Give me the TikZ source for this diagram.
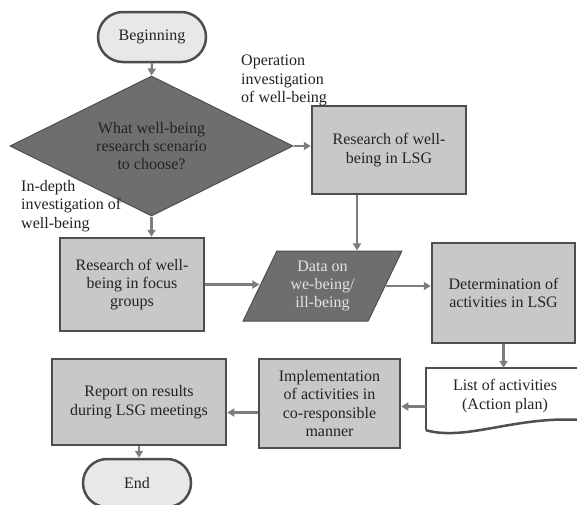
\documentclass[tikz,border=0pt]{standalone}
\usepackage{fontspec}
\setmainfont{Liberation Serif}
\usetikzlibrary{shapes.geometric,shapes.misc,arrows.meta}
\definecolor{boxgray}{RGB}{200,200,200}
\definecolor{edgegray}{RGB}{78,78,78}
\definecolor{shapegray}{RGB}{110,110,110}
\definecolor{termgray}{RGB}{232,232,232}
\definecolor{arrowgray}{RGB}{125,125,125}
\definecolor{inkgray}{RGB}{35,35,35}
\definecolor{datatext}{RGB}{228,228,228}
\begin{document}
\begin{tikzpicture}[x=1pt,y=-1pt,font=\fontsize{16}{18.4}\selectfont,text=inkgray,
    >={Triangle[length=7pt,width=8pt]},
    box/.style={draw=edgegray,line width=2.5pt,fill=boxgray,align=center,inner sep=0pt},
    term/.style={rounded rectangle,draw=edgegray,line width=2.5pt,fill=termgray,minimum width=108,minimum height=50,inner sep=0pt},
    arr/.style={->,draw=arrowgray,line width=2.2pt}]
            \path[use as bounding box,fill=white] (0,0) rectangle (577,504);
            \node[term] (begin) at (152,37) {Beginning};
            \node[diamond,aspect=2,draw=edgegray,line width=1pt,fill=shapegray,minimum width=283,minimum height=140,inner sep=0pt,align=center] (choice) at (151.5,146) {What well-being\\research scenario\\to choose?};
            \node[box,minimum width=154,minimum height=88] (lsg) at (389,150) {Research of well-\\being in LSG};
            \node[box,minimum width=144,minimum height=93] (focus) at (132,284.5) {Research of well-\\being in focus\\groups};
            \node[trapezium,trapezium left angle=65,trapezium right angle=115,trapezium stretches=true,draw=edgegray,line width=1pt,fill=shapegray,minimum width=159,minimum height=70,inner sep=0pt,align=center,text=datatext] (data) at (322.5,286) {Data on\\we-being/\\ill-being};
            \node[box,minimum width=143,minimum height=100] (determ) at (503.5,293) {Determination of\\activities in LSG};
            \node[align=center,minimum width=158,minimum height=56,inner sep=0pt] (list) at (505,396) {List of activities\\(Action plan)};
            \node[box,minimum width=141,minimum height=89] (impl) at (329.5,403.5) {Implementation\\of activities in\\co-responsible\\manner};
            \node[box,minimum width=174,minimum height=86] (report) at (139,402) {Report on results\\during LSG meetings};
            \node[term,minimum height=48] (stop) at (137,483) {End};

            \node[align=left,anchor=north west,inner sep=0pt] (oplabel) at (241,55) {Operation\\investigation\\of well-being};
            \node[align=left,anchor=north west,inner sep=0pt] (deplabel) at (21,180) {In-depth\\investigation of\\well-being};

            \draw[draw=edgegray,line width=2.5pt] ([yshift=-6pt]list.south west) -- (list.north west) -- ([xshift=20pt]list.north east);
            \draw[draw=edgegray,line width=2.5pt] ([yshift=-6pt]list.south west) .. controls +(44,12) and +(-75,-9) .. ([xshift=11pt,yshift=3pt]list.south east);

            \draw[arr] (begin.south) -- (choice.north);
            \draw[arr] (choice.east) -- (choice.east -| lsg.west);
            \draw[arr] (choice.south) -- (choice.south |- focus.north);
            \draw[arr] ([xshift=-32pt]lsg.south) -- ([xshift=-32pt]lsg.south |- data.north);
            \draw[arr] (focus.east) -- (data.west |- focus.east);
            \draw[arr] (data.east) -- (data.east -| determ.west);
            \draw[arr] (determ.south) -- (determ.south |- list.north);
            \draw[arr] ([yshift=-3pt]impl.east -| list.west) -- ([yshift=-3pt]impl.east);
            \draw[arr] ([yshift=-9pt]impl.west) -- ([yshift=-9pt]impl.west -| report.east);
            \draw[arr] (report.south) -- (report.south |- stop.north);
          \end{tikzpicture}
\end{document}
